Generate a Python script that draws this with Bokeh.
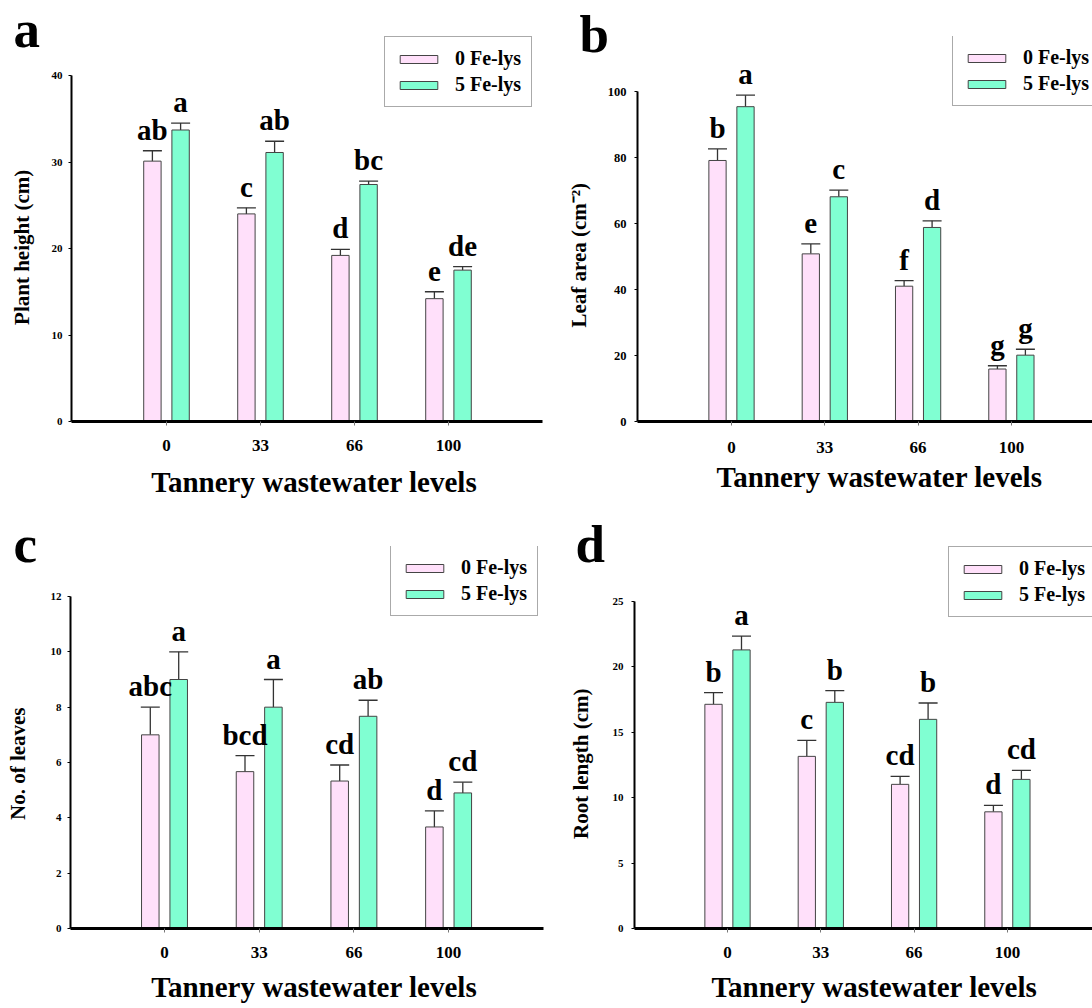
from bokeh.plotting import figure
from bokeh.models import (ColumnDataSource, Legend, LegendItem, LabelSet, Title,
                          Whisker, TeeHead, FixedTicker, SingleIntervalTicker)
from bokeh.layouts import row, column
from bokeh.embed import file_html
from bokeh.resources import INLINE
from bokeh.core.properties import value

# ---------------- data ----------------
levels = ["0", "33", "66", "100"]
series_names = ["0 Fe-lys", "5 Fe-lys"]
x_title = "Tannery wastewater levels"

# (a) Plant height (cm)
height_0 = [30.1, 24.0, 19.2, 14.2]
height_0_se = [1.2, 0.7, 0.7, 0.8]
height_5 = [33.7, 31.1, 27.4, 17.5]
height_5_se = [0.8, 1.3, 0.4, 0.4]
height_0_let = ["ab", "c", "d", "e"]
height_5_let = ["a", "ab", "bc", "de"]

# (b) Leaf area
area_0 = [79.1, 50.8, 41.0, 15.9]
area_0_se = [3.5, 3.0, 1.7, 1.0]
area_5 = [95.4, 68.1, 58.8, 20.1]
area_5_se = [3.5, 2.0, 2.0, 1.8]
area_0_let = ["b", "e", "f", "g"]
area_5_let = ["a", "c", "d", "g"]

# (c) No. of leaves
leaves_0 = [7.0, 5.67, 5.33, 3.67]
leaves_0_se = [1.0, 0.58, 0.58, 0.58]
leaves_5 = [9.0, 8.0, 7.67, 4.9]
leaves_5_se = [1.0, 1.0, 0.58, 0.39]
leaves_0_let = ["abc", "bcd", "cd", "d"]
leaves_5_let = ["a", "a", "ab", "cd"]

# (d) Root length (cm)
root_0 = [17.14, 13.16, 11.02, 8.92]
root_0_se = [0.9, 1.22, 0.61, 0.49]
root_5 = [21.3, 17.29, 15.99, 11.4]
root_5_se = [1.06, 0.89, 1.25, 0.69]
root_0_let = ["b", "c", "cd", "d"]
root_5_let = ["a", "b", "b", "cd"]

# ---------------- style ----------------
PINK = "#FFE0FA"
GREEN = "#80FFD2"
EDGE = "#444444"
FONT = "Liberation Serif"
OFF = 0.15
BAR_W = 0.185
LETTER_PX = 53
YLAB_PX = 21
XLAB_PX = 29
NBSP = "\u00a0"


def make_panel(letter, ylabel, ymax, ystep, v0, e0, t0, v5, e5, t5, g):
    ox, oy, W, H = g["ox"], g["oy"], g["W"], g["H"]
    top_b = g["top"]
    left_b = g["x0"] - ox
    right_b = ox + W - g["xr"]
    bottom_b = oy + H - g["y0"]
    sp = g["sp"]
    x_start = 1 - (g["tick0"] - g["x0"]) / sp
    x_end = x_start + (g["xr"] - g["x0"]) / sp
    ppu = (g["y0"] - g["ytop"]) / ymax
    y_end = (H - top_b - bottom_b) / ppu

    p = figure(width=W, height=H, x_range=(x_start, x_end), y_range=(0, y_end),
               output_backend="svg", toolbar_location=None, title=None,
               min_border_left=left_b, min_border_right=right_b,
               min_border_top=top_b, min_border_bottom=bottom_b)
    p.outline_line_color = None
    p.xgrid.visible = False
    p.ygrid.visible = False
    p.background_fill_color = "white"
    p.border_fill_color = "white"

    n = len(levels)
    pos = list(range(1, n + 1))
    src = ColumnDataSource(dict(
        x0=[x - OFF for x in pos], x5=[x + OFF for x in pos],
        v0=v0, v5=v5,
        u0=[a + b for a, b in zip(v0, e0)], u5=[a + b for a, b in zip(v5, e5)],
        t0=t0, t5=t5))

    r0 = p.vbar(x="x0", top="v0", width=BAR_W, bottom=0, source=src,
                fill_color=PINK, line_color=EDGE, line_width=1)
    r5 = p.vbar(x="x5", top="v5", width=BAR_W, bottom=0, source=src,
                fill_color=GREEN, line_color=EDGE, line_width=1)

    for xs, lo, up in (("x0", "v0", "u0"), ("x5", "v5", "u5")):
        p.add_layout(Whisker(source=src, base=xs, lower=lo, upper=up,
                             dimension="height", line_color="#333333", line_width=1.3,
                             upper_head=TeeHead(size=19, line_color="#333333", line_width=1.3),
                             lower_head=None))

    for xs, up, tt in (("x0", "u0", "t0"), ("x5", "u5", "t5")):
        p.add_layout(LabelSet(source=src, x=xs, y=up, text=tt, y_offset=11,
                              text_align="center", text_baseline="alphabetic",
                              text_font=value(FONT), text_font_style="bold",
                              text_font_size="29px", text_color="black"))

    # axes
    xa = p.xaxis[0]
    xa.ticker = FixedTicker(ticks=pos)
    xa.major_label_overrides = {k: lab for k, lab in zip(pos, levels)}
    xa.axis_line_width = 3
    xa.axis_line_color = "black"
    xa.major_tick_in = 0
    xa.major_tick_out = 4
    xa.major_tick_line_color = "#777777"
    xa.minor_tick_line_color = None
    xa.major_label_text_font = FONT
    xa.major_label_text_font_style = "bold"
    xa.major_label_text_font_size = "17px"
    xa.major_label_text_color = "black"
    xa.major_label_standoff = g["xls"]
    xa.axis_label = NBSP * g["xpad"] + x_title
    xa.axis_label_text_font = FONT
    xa.axis_label_text_font_style = "bold"
    xa.axis_label_text_font_size = f"{XLAB_PX}px"
    xa.axis_label_text_color = "black"
    xa.axis_label_standoff = g["xas"]

    # the y title is centred on the drawn axis (0..ymax), not on the taller frame
    shift = (g["ytop"] - (oy + top_b)) / 2
    n_pad = max(0, round(2 * shift / (0.25 * YLAB_PX)))
    ya = p.yaxis[0]
    ya.ticker = SingleIntervalTicker(interval=ystep, num_minor_ticks=0)
    ya.bounds = (0, ymax)
    ya.axis_line_width = 2
    ya.axis_line_color = "black"
    ya.major_tick_in = 0
    ya.major_tick_out = 3
    ya.major_tick_line_color = "black"
    ya.minor_tick_line_color = None
    ya.major_label_text_font = FONT
    ya.major_label_text_font_style = "bold"
    ya.major_label_text_font_size = g["ytf"]
    ya.major_label_text_color = "black"
    ya.major_label_standoff = g["yls"]
    ya.axis_label = ylabel + NBSP * n_pad
    ya.axis_label_text_font = FONT
    ya.axis_label_text_font_style = "bold"
    ya.axis_label_text_font_size = f"{YLAB_PX}px"
    ya.axis_label_text_color = "black"
    ya.axis_label_standoff = g["yas"]

    # legend
    legend = Legend(items=[LegendItem(label=series_names[0], renderers=[r0]),
                           LegendItem(label=series_names[1], renderers=[r5])],
                    location=(g["lx"] - g["x0"], g["y0"] - g["lb"]),
                    glyph_width=47, glyph_height=10, label_standoff=13,
                    padding=10, spacing=3, margin=0,
                    label_text_font=FONT, label_text_font_style="bold",
                    label_text_font_size="20px", label_text_color="black",
                    border_line_color="#555555", border_line_width=1,
                    background_fill_color="white", background_fill_alpha=1)
    p.add_layout(legend)

    # panel letter as a title in the top border
    base = g["let_b"] - oy
    standoff = max(-63.0, 2 * (top_b - 10.7 - base))
    p.add_layout(Title(text=letter, align="left", vertical_align="top",
                       offset=g["let_x"] - g["x0"], standoff=standoff,
                       text_font=FONT, text_font_style="bold",
                       text_font_size=f"{LETTER_PX}px", text_color="black"), "above")
    return p


# plots in one row share the top and bottom of their frames
TOP1, ZERO1 = 36, 421
TOP2, ZERO2 = 41, 928

geo_a = dict(ox=0, oy=0, W=546, H=505, top=TOP1, x0=71, tick0=166, sp=94.0, xr=542,
             y0=ZERO1, ytop=75, lx=384, lb=107, let_x=13, let_b=49,
             xls=14, xas=12, xpad=2, ytf="11px", yls=6, yas=15)
geo_b = dict(ox=546, oy=0, W=546, H=505, top=TOP1, x0=637, tick0=731, sp=93.3, xr=1092,
             y0=ZERO1, ytop=91, lx=952, lb=106, let_x=579, let_b=63,
             xls=16, xas=5, xpad=4, ytf="12.5px", yls=8, yas=14)
geo_c = dict(ox=0, oy=505, W=546, H=503, top=TOP2, x0=70, tick0=164, sp=94.7, xr=543,
             y0=ZERO2, ytop=596, lx=390, lb=616, let_x=13, let_b=568,
             xls=14, xas=10, xpad=2, ytf="11px", yls=6, yas=18)
geo_d = dict(ox=546, oy=505, W=546, H=503, top=TOP2, x0=634, tick0=727, sp=93.3, xr=1092,
             y0=ZERO2, ytop=601, lx=948, lb=617, let_x=575, let_b=573,
             xls=14, xas=10, xpad=3, ytf="11px", yls=8, yas=17)

pa = make_panel("a", "Plant height (cm)", 40, 10, height_0, height_0_se, height_0_let,
                height_5, height_5_se, height_5_let, geo_a)
pb = make_panel("b", "Leaf area (cm\u207b\u00b2)", 100, 20, area_0, area_0_se, area_0_let,
                area_5, area_5_se, area_5_let, geo_b)
pc = make_panel("c", "No. of leaves", 12, 2, leaves_0, leaves_0_se, leaves_0_let,
                leaves_5, leaves_5_se, leaves_5_let, geo_c)
pd = make_panel("d", "Root length (cm)", 25, 5, root_0, root_0_se, root_0_let,
                root_5, root_5_se, root_5_let, geo_d)

layout = column(row(pa, pb), row(pc, pd))
open("out.html", "w").write(file_html(layout, INLINE))
